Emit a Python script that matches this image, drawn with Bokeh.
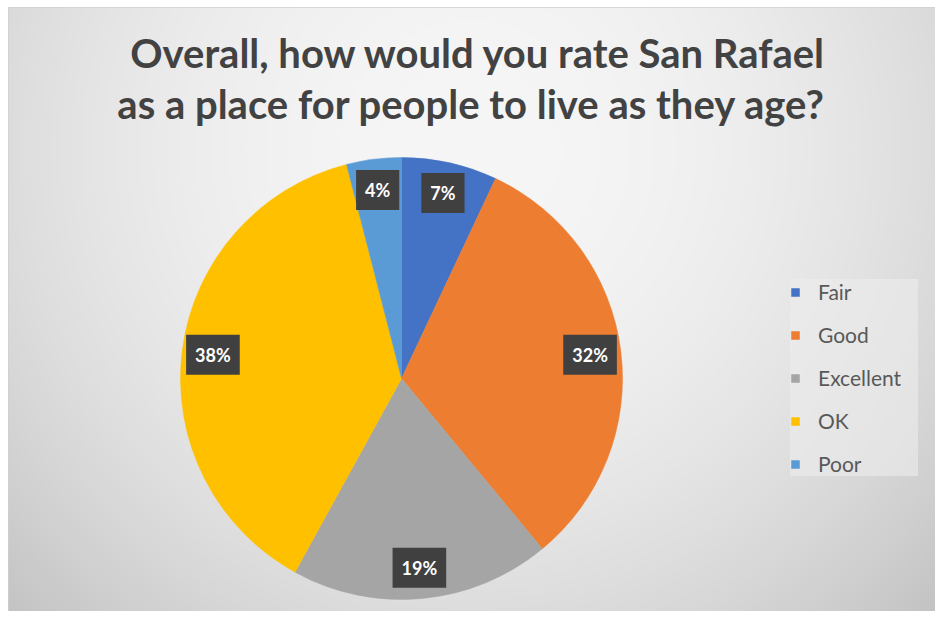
import numpy as np
from bokeh.plotting import figure
from bokeh.models import Range1d, Legend, LegendItem, Label, ColumnDataSource
from bokeh.core.properties import value
from bokeh.embed import file_html
from bokeh.resources import INLINE

# ---- data ----
categories = ["Fair", "Good", "Excellent", "OK", "Poor"]
percents = [7, 32, 19, 38, 4]
colors = ["#4472C4", "#ED7D31", "#A5A5A5", "#FFC000", "#5B9BD5"]
title_lines = ["Overall, how would you rate San Rafael",
               "as a place for people to live as they age?"]

BL, BT = 8, 7               # white strip left / top
FW, FH = 935 - BL, 611 - BT  # plot frame
FONT = "Lato"

p = figure(width=935, height=611, output_backend="svg", toolbar_location=None,
           x_range=Range1d(0, FW), y_range=Range1d(0, FH),
           x_axis_location=None, y_axis_location=None,
           min_border_left=BL, min_border_top=BT, min_border_right=0,
           min_border_bottom=0)
p.grid.visible = False
p.outline_line_color = "#d0d0d0"
p.background_fill_color = "#e4e4e4"
p.border_fill_color = "white"

# radial gradient background (styling only)
yy, xx = np.mgrid[0:FH, 0:FW]
page_x = xx + BL
page_y = (BT + FH) - yy
d = np.sqrt((page_x - 470.0) ** 2 + (page_y - 150.0) ** 2)
v = np.clip(246 - 50 * (d / 650.0) ** 2, 0, 255).astype(np.uint32)
img = (255 << 24) | (v << 16) | (v << 8) | v
p.image_rgba(image=[img.astype(np.uint32)], x=0, y=0, dw=FW, dh=FH)

# ---- pie ----
cx, cy, R = 393, 233, 221
frac = np.array(percents, dtype=float) / np.sum(percents)
cum_end = np.cumsum(frac)
cum_start = cum_end - frac
start = np.pi / 2 - cum_start * 2 * np.pi
end = np.pi / 2 - cum_end * 2 * np.pi
mid = (start + end) / 2
lr = 0.86 * R
src = ColumnDataSource(dict(
    cat=categories, pct=percents, color=colors, start=start, end=end,
    lx=cx + lr * np.cos(mid), ly=cy + lr * np.sin(mid),
    lab=[f"{v}%" for v in percents]))

legend_items = []
for i, c in enumerate(categories):
    r = p.wedge(x=cx, y=cy, radius=R, start_angle=start[i], end_angle=end[i],
                direction="clock", fill_color=colors[i], line_color=colors[i],
                line_width=0.5)
    legend_items.append(LegendItem(label=c, renderers=[r]))

p.text(x="lx", y="ly", text="lab", source=src,
       text_font=value(FONT), text_font_style="bold", text_font_size="18px",
       text_color="white", text_align="center", text_baseline="middle",
       background_fill_color="#404040", padding=9)

# ---- title ----
for txt, xs, ys in zip(title_lines, [470, 463], [559, 508]):
    p.add_layout(Label(x=xs, y=ys, text=txt,
                       text_font=FONT, text_font_style="bold", text_font_size="40px",
                       text_color="#424242", text_align="center",
                       text_baseline="middle"))

# ---- legend ----
legend = Legend(items=legend_items, location=(782, 135),
                background_fill_color="#ececec", background_fill_alpha=0.6,
                border_line_color=None, label_text_font=FONT,
                label_text_font_size="21px", label_text_color="#595959",
                glyph_width=10, glyph_height=10, label_standoff=18,
                label_width=100, label_height=25, spacing=18, padding=11, margin=0)
p.add_layout(legend)

open("out.html", "w").write(file_html(p, INLINE))
